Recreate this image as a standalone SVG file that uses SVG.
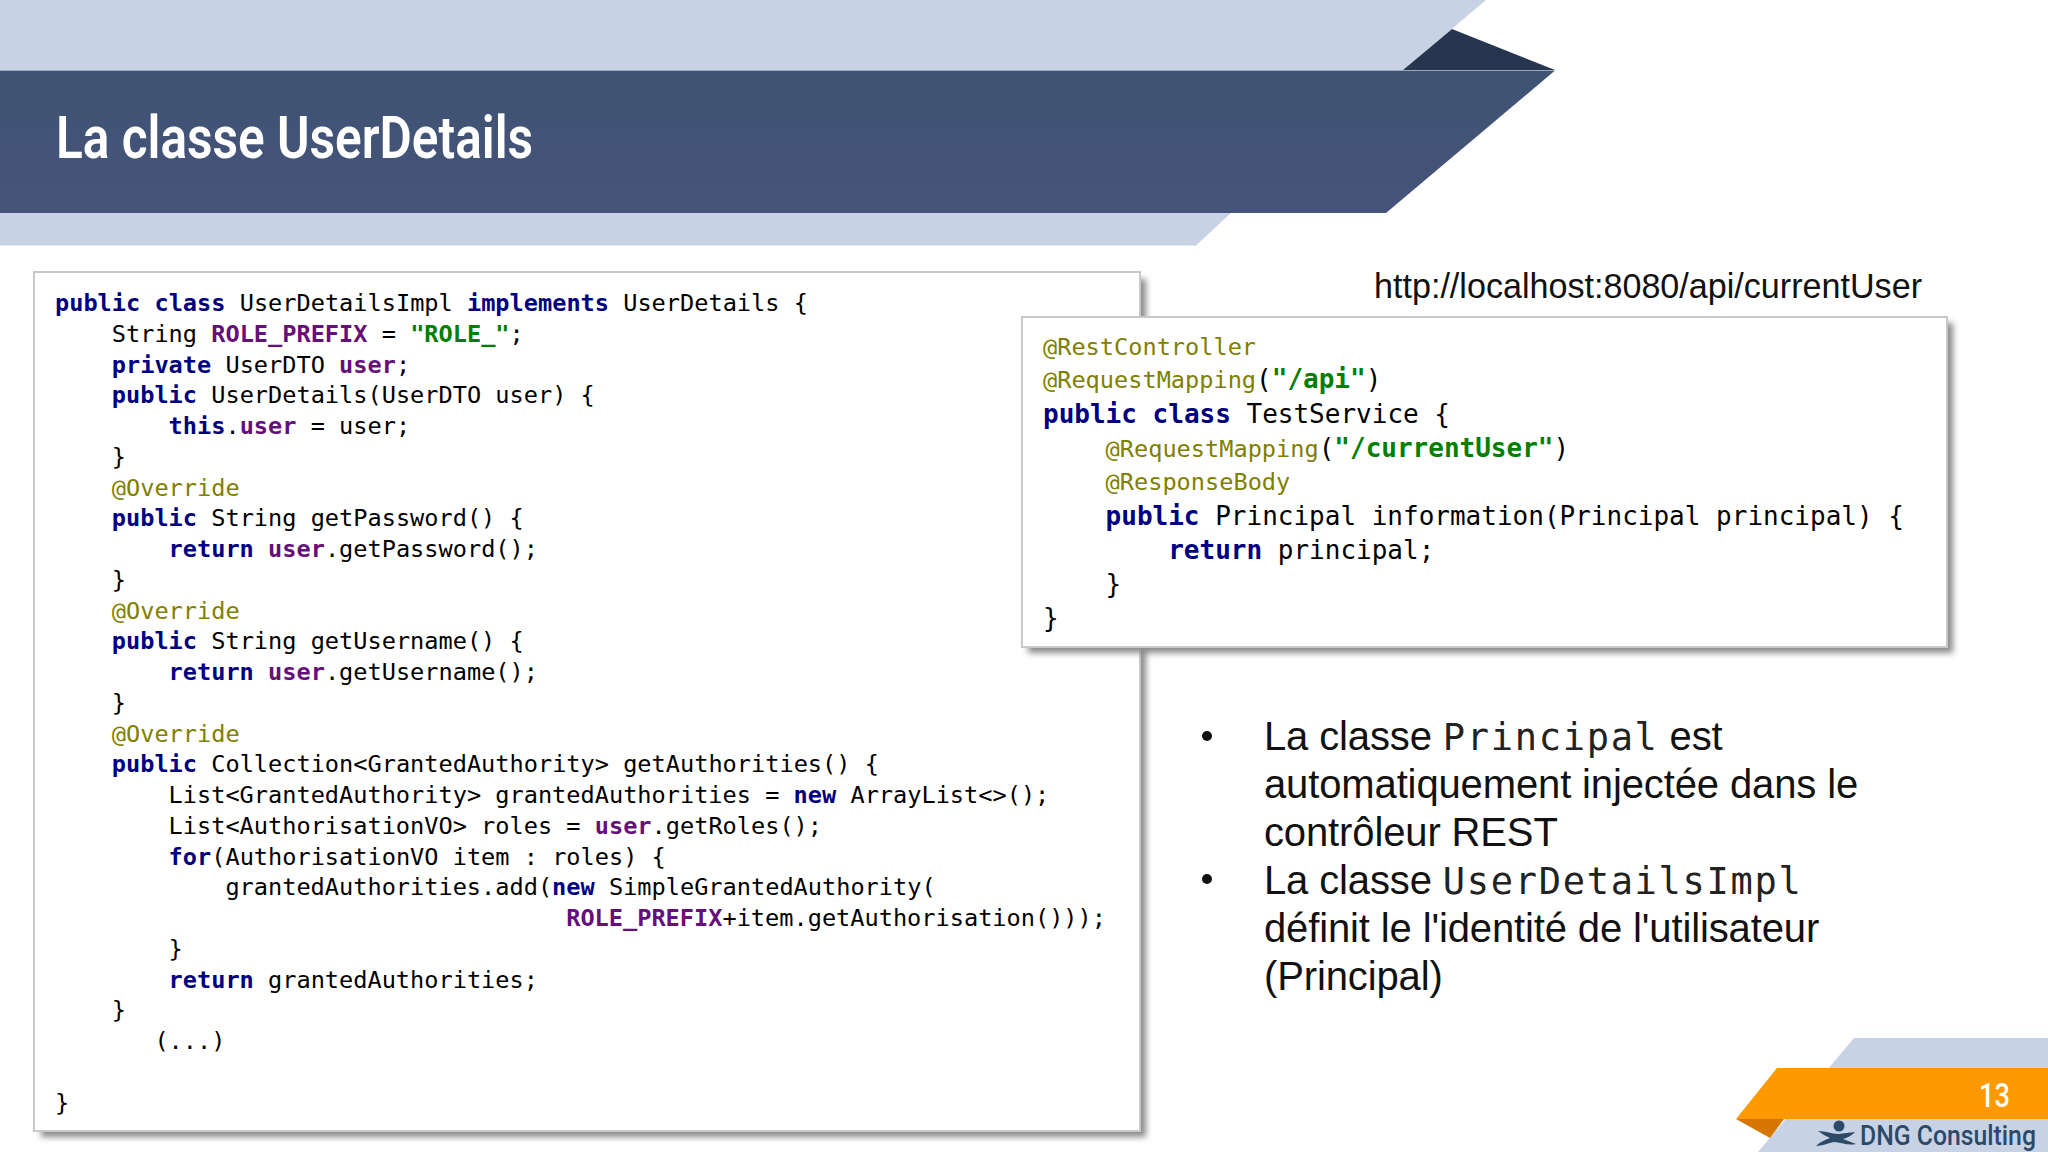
<svg xmlns="http://www.w3.org/2000/svg" width="2048" height="1152" viewBox="0 0 2048 1152">
<style>
text{white-space:pre}
.c1,.c2{font-family:"DejaVu Sans Mono",monospace;fill:#000}
.c1{font-size:23.6px}.c2{font-size:26px}
.k{fill:#000080;font-weight:bold}.f{fill:#660e7a;font-weight:bold}.s{fill:#008000;font-weight:bold}.a{fill:#808000;font-size:23.6px}
.b{font-family:"Liberation Sans",Arial,sans-serif;font-size:40px;fill:#111;letter-spacing:-0.13px}
.m{font-family:"DejaVu Sans Mono",monospace;font-size:37px;letter-spacing:1.7px;fill:#222}
</style>
<defs>
<linearGradient id="hd" x1="0" y1="0" x2="0" y2="1"><stop offset="0" stop-color="#3e5373"/><stop offset="1" stop-color="#46547a"/></linearGradient>
<filter id="sh" x="-5%" y="-5%" width="110%" height="110%"><feGaussianBlur stdDeviation="3"/></filter>
</defs>
<g id="header">
<polygon points="0,0 1486,0 1403,70 0,70" fill="#c7d3e5"/>
<polygon points="1403,70 1452,29 1555,70" fill="#28354f"/>
<polygon points="0,213 1231,213 1196,245.5 0,245.5" fill="#c7d3e5"/>
<polygon points="0,70.5 1555,70.5 1386,213 0,213" fill="url(#hd)"/>
<text x="56" y="158" font-family="Roboto,sans-serif" font-weight="600" font-size="60" fill="#fff" textLength="477" lengthAdjust="spacingAndGlyphs">La classe UserDetails</text>
</g>
<g id="code-left">
<rect x="41" y="279" width="1105" height="858" fill="#8a8a8a" filter="url(#sh)"/>
<rect x="34" y="272" width="1106" height="859" fill="#fff" stroke="#c8c8c8" stroke-width="2"/>
<text class="c1" x="55" y="311"><tspan class="k">public class</tspan> UserDetailsImpl <tspan class="k">implements</tspan> UserDetails {</text>
<text class="c1" x="111.8" y="341.8">String <tspan class="f">ROLE_PREFIX</tspan> = <tspan class="s">"ROLE_"</tspan>;</text>
<text class="c1" x="111.8" y="372.5"><tspan class="k">private</tspan> UserDTO <tspan class="f">user</tspan>;</text>
<text class="c1" x="111.8" y="403.3"><tspan class="k">public</tspan> UserDetails(UserDTO user) {</text>
<text class="c1" x="168.6" y="434"><tspan class="k">this</tspan>.<tspan class="f">user</tspan> = user;</text>
<text class="c1" x="111.8" y="464.8">}</text>
<text class="c1 a" x="111.8" y="495.5">@Override</text>
<text class="c1" x="111.8" y="526.3"><tspan class="k">public</tspan> String getPassword() {</text>
<text class="c1" x="168.6" y="557"><tspan class="k">return</tspan> <tspan class="f">user</tspan>.getPassword();</text>
<text class="c1" x="111.8" y="587.8">}</text>
<text class="c1 a" x="111.8" y="618.5">@Override</text>
<text class="c1" x="111.8" y="649.3"><tspan class="k">public</tspan> String getUsername() {</text>
<text class="c1" x="168.6" y="680"><tspan class="k">return</tspan> <tspan class="f">user</tspan>.getUsername();</text>
<text class="c1" x="111.8" y="710.8">}</text>
<text class="c1 a" x="111.8" y="741.5">@Override</text>
<text class="c1" x="111.8" y="772.3"><tspan class="k">public</tspan> Collection&lt;GrantedAuthority&gt; getAuthorities() {</text>
<text class="c1" x="168.6" y="803">List&lt;GrantedAuthority&gt; grantedAuthorities = <tspan class="k">new</tspan> ArrayList&lt;&gt;();</text>
<text class="c1" x="168.6" y="833.8">List&lt;AuthorisationVO&gt; roles = <tspan class="f">user</tspan>.getRoles();</text>
<text class="c1" x="168.6" y="864.5"><tspan class="k">for</tspan>(AuthorisationVO item : roles) {</text>
<text class="c1" x="225.4" y="895.3">grantedAuthorities.add(<tspan class="k">new</tspan> SimpleGrantedAuthority(</text>
<text class="c1" x="566.2" y="926"><tspan class="f">ROLE_PREFIX</tspan>+item.getAuthorisation()));</text>
<text class="c1" x="168.6" y="956.8">}</text>
<text class="c1" x="168.6" y="987.5"><tspan class="k">return</tspan> grantedAuthorities;</text>
<text class="c1" x="111.8" y="1018.3">}</text>
<text class="c1" x="154.4" y="1049">(...)</text>
<text class="c1" x="55" y="1110.5">}</text>
</g>
<g id="url">
<text x="1374" y="297.5" font-family="Liberation Sans,Arial,sans-serif" font-size="35" fill="#111" textLength="548" lengthAdjust="spacingAndGlyphs">http://localhost:8080/api/currentUser</text>
</g>
<g id="code-right">
<rect x="1028" y="323" width="925" height="330" fill="#8a8a8a" filter="url(#sh)"/>
<rect x="1022" y="317" width="925" height="330" fill="#fff" stroke="#c8c8c8" stroke-width="2"/>
<text class="c2 a" x="1043" y="354.5">@RestController</text>
<text class="c2" x="1043" y="388.4"><tspan class="a">@RequestMapping</tspan>(<tspan class="s">"/api"</tspan>)</text>
<text class="c2" x="1043" y="423.3"><tspan class="k">public class</tspan> TestService {</text>
<text class="c2" x="1105.6" y="456.5"><tspan class="a">@RequestMapping</tspan>(<tspan class="s">"/currentUser"</tspan>)</text>
<text class="c2 a" x="1105.6" y="490.1">@ResponseBody</text>
<text class="c2" x="1105.6" y="525"><tspan class="k">public</tspan> Principal information(Principal principal) {</text>
<text class="c2" x="1168.2" y="558.9"><tspan class="k">return</tspan> principal;</text>
<text class="c2" x="1105.6" y="592.8">}</text>
<text class="c2" x="1043" y="626.7">}</text>
</g>
<g id="bullets">
<circle cx="1207" cy="736" r="5" fill="#111"/>
<circle cx="1207" cy="879" r="5" fill="#111"/>
<text class="b" x="1264" y="750">La classe <tspan class="m">Principal</tspan> est</text>
<text class="b" x="1264" y="798">automatiquement injectée dans le</text>
<text class="b" x="1264" y="846">contrôleur REST</text>
<text class="b" x="1264" y="894">La classe <tspan class="m">UserDetailsImpl</tspan></text>
<text class="b" x="1264" y="942">définit le l'identité de l'utilisateur</text>
<text class="b" x="1264" y="990">(Principal)</text>
</g>
<g id="footer">
<polygon points="1854,1038 2048,1038 2048,1152 1758,1152" fill="#c7d3e5"/>
<polygon points="1736,1119 1784,1119 1770,1138" fill="#d67600"/>
<polygon points="1777,1068 2048,1068 2048,1119 1736,1119" fill="#ff9900"/>
<text x="1979" y="1107" font-family="Roboto,sans-serif" font-weight="500" font-size="34" fill="#fff" textLength="31" lengthAdjust="spacingAndGlyphs">13</text>
<g id="logo" fill="#2c4a68">
<circle cx="1839" cy="1126" r="5.5"/>
<path d="M1818,1131 C1826,1131 1832,1134 1838,1134 L1855,1132 C1850,1137 1846,1138 1843,1139 L1856,1144 C1848,1146 1840,1142 1834,1142 C1828,1143 1822,1146 1816,1146 C1820,1142 1825,1140 1830,1138 C1826,1136 1822,1134 1818,1131Z"/>
</g>
<text transform="translate(1860 1144.5) scale(.869 1)" font-family="Roboto,sans-serif" font-weight="500" font-size="28.5" fill="#2c4a68">DNG Consulting</text>
</g>
</svg>
